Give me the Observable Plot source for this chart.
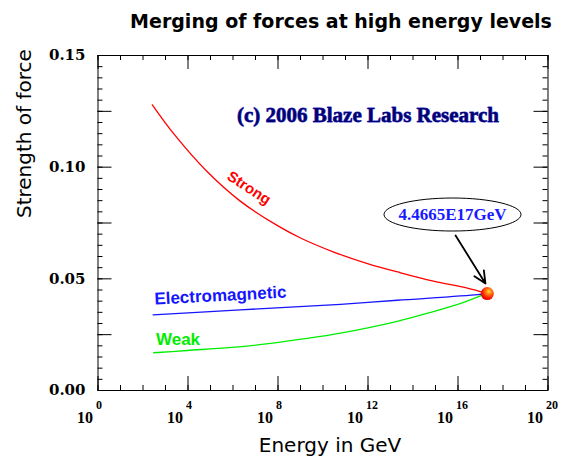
<!DOCTYPE html>
<html><head><meta charset="utf-8">
<script src="https://cdn.jsdelivr.net/npm/d3@7"></script>
<script src="https://cdn.jsdelivr.net/npm/@observablehq/plot@0.6"></script>
<style>
html,body{margin:0;padding:0;background:#fff;}
#title{width:568px;height:40px;box-sizing:border-box;padding-top:12px;padding-left:114px;text-align:center;font:bold 19px/19px "DejaVu Sans",sans-serif;color:#000;white-space:nowrap;}
#chart svg{display:block}
</style></head><body>
<div id="title">Merging of forces at high energy levels</div>
<div id="chart"></div>
<script>
// ---- data (energy in GeV, strength) ----
const strongE = [2.6e2, 2.3e3, 7.4e4, 2.1e6, 9.5e7, 1.0e9, 3.0e10, 9.5e11, 2.8e13, 8.1e14, 2.6e16, 1.7e17];
const strongV = [0.1279, 0.1150, 0.0978, 0.0848, 0.0738, 0.0683, 0.0620, 0.0568, 0.0527, 0.0490, 0.0458, 0.0436];
const emE = [2.8e2, 2.1e6, 6.0e10, 2.0e13, 7.4e16, 1.7e17];
const emV = [0.0339, 0.0361, 0.0386, 0.0404, 0.0429, 0.0434];
const weakE = [3.0e2, 9.1e3, 8.3e6, 5.5e9, 6.0e10, 2.0e13, 6.0e14, 1.8e16, 1.7e17];
const weakV = [0.0169, 0.0179, 0.0202, 0.0240, 0.0257, 0.0310, 0.0350, 0.0395, 0.0434];
const mergeE = [2.0e17];
const mergeV = [0.0434];

// ---- annotations ----
const calloutText = ["4.4665E17GeV"];
const calloutE = [5.7e15];
const calloutV = [0.0788];
const arrowFromE = [7.8e15], arrowFromV = [0.0694];
const arrowToE = [1.66e17], arrowToV = [0.0479];
const copyrightText = ["(c) 2006 Blaze Labs Research"];
const copyrightE = [1e12], copyrightV = [0.1231];
const seriesLabels = ["Strong", "Electromagnetic", "Weak"];
const seriesLabelE = [5.1e6, 2.75e5, 3.6e3];
const seriesLabelV = [0.0907, 0.0425, 0.0228];

// ---- axes ----
const xMajor = [1e0, 1e4, 1e8, 1e12, 1e16, 1e20];
const xExponents = ["0", "4", "8", "12", "16", "20"];
const xMinor = [1e0,1e1,1e2,1e3,1e4,1e5,1e6,1e7,1e8,1e9,1e10,1e11,1e12,1e13,1e14,1e15,1e16,1e17,1e18,1e19,1e20];
const yLabelVals = [0, 0.05, 0.10, 0.15];
const yLabels = ["0.00", "0.05", "0.10", "0.15"];
const yMajor = [0, 0.025, 0.05, 0.075, 0.10, 0.125, 0.15];
const yMinor = [0,0.005,0.01,0.015,0.02,0.025,0.03,0.035,0.04,0.045,0.05,0.055,0.06,0.065,0.07,0.075,0.08,0.085,0.09,0.095,0.1,0.105,0.11,0.115,0.12,0.125,0.13,0.135,0.14,0.145,0.15];

const toRows = (E, V) => E.map((e, i) => ({e, v: V[i]}));
const strong = toRows(strongE, strongV);
const em = toRows(emE, emV);
const weak = toRows(weakE, weakV);
const merge = toRows(mergeE, mergeV);

const serifFont = "'DejaVu Serif', serif";
const timesFont = "'Liberation Serif', 'Times New Roman', serif";
const sansFont = "'DejaVu Sans', sans-serif";
const arialFont = "'Liberation Sans', Arial, sans-serif";

const W = 568, H = 423, ML = 97.5, MR = 20.5, MT = 15, MB = 73;
const FW = W - ML - MR, FH = H - MT - MB;

const ellipseSymbol = {
  draw(ctx) {
    const rx = 68.5, ry = 16.5, k = 0.5523;
    ctx.moveTo(rx, 0);
    ctx.bezierCurveTo(rx, ry * k, rx * k, ry, 0, ry);
    ctx.bezierCurveTo(-rx * k, ry, -rx, ry * k, -rx, 0);
    ctx.bezierCurveTo(-rx, -ry * k, -rx * k, -ry, 0, -ry);
    ctx.bezierCurveTo(rx * k, -ry, rx, -ry * k, rx, 0);
    ctx.closePath();
  }
};
// inward ticks as short rules (length set by pixel insets)
const xTicks = (values, side, len) => Plot.ruleX(values, {x: d => d, stroke: "black", strokeWidth: 1,
  ...(side === "bottom" ? {insetTop: FH - len} : {insetBottom: FH - len})});
const yTicks = (values, side, len) => Plot.ruleY(values, {y: d => d, stroke: "black", strokeWidth: 1,
  ...(side === "left" ? {insetRight: FW - len} : {insetLeft: FW - len})});

const chart = Plot.plot({
  width: W, height: H,
  marginTop: MT, marginLeft: ML, marginRight: MR, marginBottom: MB,
  style: {background: "white", color: "black", overflow: "visible"},
  x: {type: "log", domain: [1, 1e20], axis: null},
  y: {domain: [0, 0.15], axis: null},
  marks: [
    // tick labels
    Plot.text(yLabelVals, {y: d => d, text: (d, i) => yLabels[i], frameAnchor: "left", dx: -12.5, textAnchor: "end", fontFamily: serifFont, fontWeight: "bold", fontSize: 15, fill: "black"}),
    Plot.text(xMajor, {x: d => d, text: () => "10", frameAnchor: "bottom", dy: 32, dx: -5, textAnchor: "end", fontFamily: timesFont, fontWeight: "bold", fontSize: 16, fill: "black"}),
    Plot.text(xMajor, {x: d => d, text: (d, i) => xExponents[i], frameAnchor: "bottom", dy: 18, dx: -2, textAnchor: "start", fontFamily: timesFont, fontWeight: "bold", fontSize: 12, fill: "black"}),
    // axis titles
    Plot.text(["Strength of force"], {frameAnchor: "left", dx: -73.5, dy: -5, rotate: -90, fontFamily: sansFont, fontSize: 20, fill: "black"}),
    Plot.text(["Energy in GeV"], {frameAnchor: "bottom", dx: 7, dy: 61, fontFamily: sansFont, fontSize: 20, fill: "black"}),
    // series
    Plot.line(strong, {x: "e", y: "v", stroke: "#ff0000", strokeWidth: 1.3, curve: "catmull-rom"}),
    Plot.line(em, {x: "e", y: "v", stroke: "#1515ff", strokeWidth: 1.3, curve: "catmull-rom"}),
    Plot.line(weak, {x: "e", y: "v", stroke: "#00ee00", strokeWidth: 1.3, curve: "catmull-rom"}),
    // series labels
    Plot.text([0], {x: () => seriesLabelE[0], y: () => seriesLabelV[0], text: () => seriesLabels[0], rotate: 33, fontFamily: arialFont, fontWeight: "bold", fontSize: 15, fill: "#ff0000"}),
    Plot.text([1], {x: () => seriesLabelE[1], y: () => seriesLabelV[1], text: () => seriesLabels[1], rotate: -3, fontFamily: arialFont, fontWeight: "bold", fontSize: 17, fill: "#1515ff"}),
    Plot.text([2], {x: () => seriesLabelE[2], y: () => seriesLabelV[2], text: () => seriesLabels[2], fontFamily: arialFont, fontWeight: "bold", fontSize: 17, fill: "#00ee00"}),
    // copyright
    Plot.text(copyrightText, {x: (d, i) => copyrightE[i], y: (d, i) => copyrightV[i], text: d => d, fontFamily: timesFont, fontWeight: "bold", fontSize: 21, fill: "#000070", stroke: "#3a3ad0", strokeWidth: 0.8}),
    // callout
    Plot.arrow([0], {x1: () => arrowFromE[0], y1: () => arrowFromV[0], x2: () => arrowToE[0], y2: () => arrowToV[0], stroke: "black", strokeWidth: 1.8, headLength: 11, headAngle: 50}),
    Plot.dot(calloutText, {x: (d, i) => calloutE[i], y: (d, i) => calloutV[i], symbol: ellipseSymbol, fill: "white", stroke: "black", strokeWidth: 1}),
    Plot.text(calloutText, {x: (d, i) => calloutE[i], y: (d, i) => calloutV[i], text: d => d, fontFamily: timesFont, fontWeight: "bold", fontSize: 17, fill: "#1a1aff"}),
    // merge point
    Plot.dot(merge, {x: "e", y: "v", r: 6.5, fill: "url(#mergeGlow)", stroke: "none"}),
    // frame and inward ticks on all four sides (drawn last)
    Plot.frame({stroke: "black", strokeWidth: 1}),
    xTicks(xMinor, "bottom", 5), xTicks(xMajor, "bottom", 14),
    xTicks(xMinor, "top", 5), xTicks(xMajor, "top", 14),
    yTicks(yMinor, "left", 5), yTicks(yMajor, "left", 14),
    yTicks(yMinor, "right", 5), yTicks(yMajor, "right", 14)
  ]
});

const svgSel = d3.select(chart);
const defs = svgSel.insert("defs", ":first-child");
const grad = defs.append("radialGradient").attr("id", "mergeGlow").attr("cx", "62%").attr("cy", "35%").attr("r", "65%");
grad.append("stop").attr("offset", "0%").attr("stop-color", "#ffdd33");
grad.append("stop").attr("offset", "35%").attr("stop-color", "#ff7a10");
grad.append("stop").attr("offset", "75%").attr("stop-color", "#ff1a00");
grad.append("stop").attr("offset", "100%").attr("stop-color", "#e80000");

document.getElementById("chart").appendChild(chart);
</script>
</body></html>
